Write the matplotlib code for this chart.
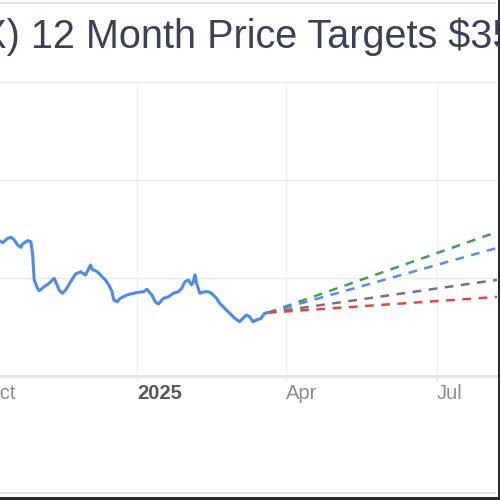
import matplotlib
matplotlib.use('Agg')
import matplotlib.pyplot as plt
import pandas as pd
from matplotlib.lines import Line2D

plt.rcParams['font.family'] = ['Liberation Sans', 'DejaVu Sans']

# closing prices
dates = ['2024-10-10', '2024-10-12', '2024-10-15', '2024-10-17', '2024-10-19', '2024-10-21',
         '2024-10-23', '2024-10-24', '2024-10-27', '2024-10-29', '2024-10-30', '2024-10-31',
         '2024-11-02', '2024-11-03', '2024-11-06', '2024-11-09', '2024-11-12', '2024-11-13',
         '2024-11-15', '2024-11-17', '2024-11-19', '2024-11-22', '2024-11-25', '2024-11-28',
         '2024-12-01', '2024-12-03', '2024-12-04', '2024-12-05', '2024-12-08', '2024-12-10',
         '2024-12-13', '2024-12-15', '2024-12-17', '2024-12-18', '2024-12-20', '2024-12-22',
         '2024-12-26', '2024-12-30', '2025-01-01', '2025-01-05', '2025-01-07', '2025-01-10',
         '2025-01-12', '2025-01-14', '2025-01-17', '2025-01-20', '2025-01-23', '2025-01-26',
         '2025-01-28', '2025-01-30', '2025-02-01', '2025-02-03', '2025-02-04', '2025-02-05',
         '2025-02-06', '2025-02-08', '2025-02-11', '2025-02-13', '2025-02-15', '2025-02-18',
         '2025-02-20', '2025-02-22', '2025-02-24', '2025-02-26', '2025-03-01', '2025-03-04',
         '2025-03-06', '2025-03-08', '2025-03-10', '2025-03-12', '2025-03-14', '2025-03-17',
         '2025-03-19', '2025-03-21']
prices = [33.81, 33.60, 34.05, 34.15, 33.88, 33.37,
          33.13, 33.47, 33.81, 33.70, 32.52, 29.80,
          28.95, 28.70, 29.11, 29.46, 29.97, 29.62,
          28.78, 28.44, 28.78, 29.62, 30.41, 30.64,
          30.31, 30.99, 31.33, 30.89, 30.64, 30.31,
          29.80, 29.29, 28.60, 27.76, 27.58, 27.93,
          28.27, 28.44, 28.52, 28.60, 28.85, 28.27,
          27.58, 27.35, 27.93, 28.09, 28.44, 28.60,
          28.95, 29.62, 29.80, 29.29, 29.62, 30.31,
          29.46, 28.44, 28.60, 28.60, 28.44, 27.93,
          27.42, 27.07, 26.73, 26.40, 25.89, 25.54,
          25.89, 26.22, 26.05, 25.54, 25.71, 25.89,
          26.40, 26.46]

# 12 month targets: high, average, consensus, low
target_values = [48.2, 43.9, 35.3, 30.7]
target_colors = ['#43a04a', '#4f8ef5', '#6f737f', '#e8463c']

tick_dates = ['2024-10-01', '2025-01-01', '2025-04-01', '2025-07-01']
tick_labels = ['Oct', '2025', 'Apr', 'Jul']

fig = plt.figure(figsize=(5, 5), dpi=100)
ax = fig.add_axes([-20/500, 124/500, 517/500, 294/500])

d = pd.to_datetime(dates)
ax.plot(d, prices, color='#4d8af0', lw=2.2, solid_joinstyle='round', zorder=3)

start = d[-1]
end = start + pd.DateOffset(years=1)
for v, c in zip(target_values, target_colors):
    ax.plot([start, end], [prices[-1], v], color=c, lw=1.8, dashes=(3.5, 3), zorder=2)

jan1 = pd.Timestamp('2025-01-01')
ax.set_xlim(jan1 - pd.Timedelta(days=94.7), jan1 + pd.Timedelta(days=217.3))
ax.set_ylim(20, 50)
ax.set_yticks([20, 30, 40, 50])
ax.tick_params(axis='y', length=0, labelleft=False)

ax.set_xticks(pd.to_datetime(tick_dates))
ax.set_xticklabels(tick_labels, ha='left')
ax.tick_params(axis='x', length=3, color='#d8dbe3', pad=3, labelsize=14.5, labelcolor='#8a8d96')
for lbl in ax.get_xticklabels():
    if lbl.get_text() == '2025':
        lbl.set_fontweight('bold')
        lbl.set_color('#55585f')

ax.grid(axis='y', color='#e9e9ee', lw=1)
ax.grid(axis='x', color='#f1f1f4', lw=1)
ax.set_axisbelow(True)
for s in ['top', 'left', 'right']:
    ax.spines[s].set_visible(False)
ax.spines['bottom'].set_color('#e4e6ec')
ax.spines['bottom'].set_linewidth(2.2)

fig.text(-33/500, 1 - 48/500, f"(X) 12 Month Price Targets ${target_values[2]:.2f}",
         fontsize=28.5, color='#3b4256', ha='left', va='baseline')

# container borders
fig.add_artist(Line2D([0, 495/500], [1 - 3/500] * 2, color='#dcdde3', lw=1.2))
fig.add_artist(Line2D([0, 495/500], [1 - 493/500] * 2, color='#dcdde3', lw=1.2))
fig.add_artist(Line2D([498.5/500] * 2, [0, 1], color='#2b2b2b', lw=2.2))
fig.add_artist(Line2D([0, 1], [1 - 497.5/500] * 2, color='#2b2b2b', lw=2.2))

fig.savefig('out.png', dpi=100)
